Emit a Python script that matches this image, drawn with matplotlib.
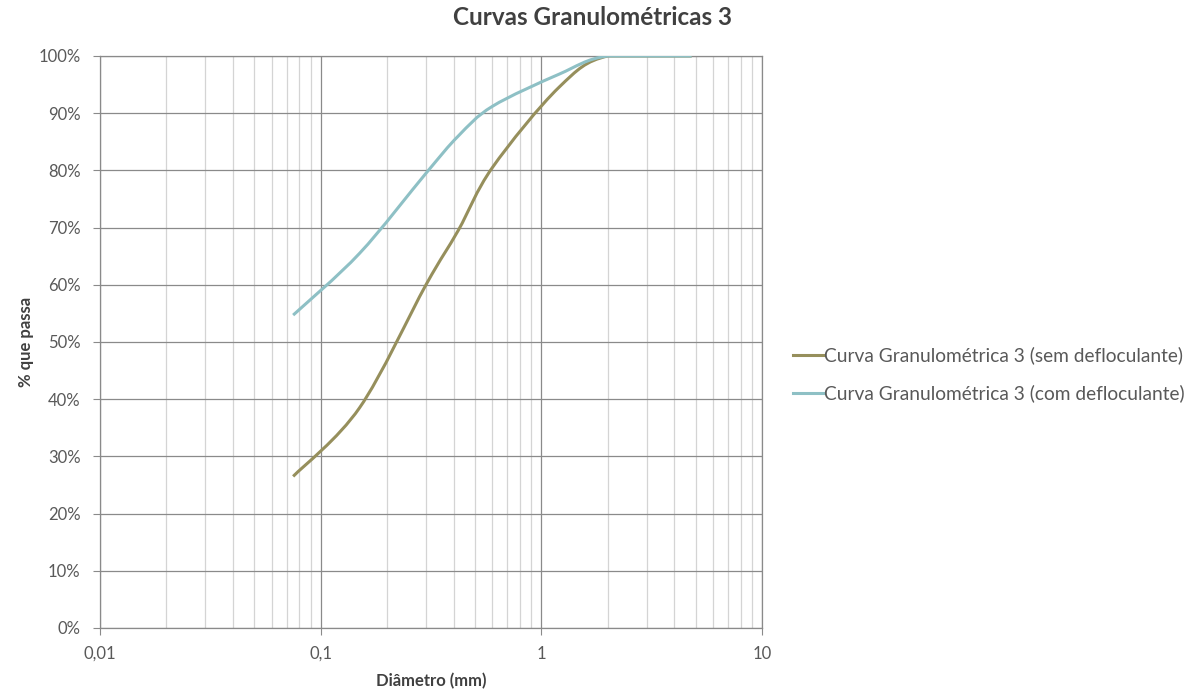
import numpy as np
import matplotlib
matplotlib.use("Agg")
import matplotlib.pyplot as plt
from matplotlib.path import Path
from matplotlib.patches import PathPatch
from matplotlib.lines import Line2D
from matplotlib.ticker import FuncFormatter, LogLocator, MultipleLocator


# peneiras (mm) e % que passa
diametro = [0.075, 0.15, 0.3, 0.42, 0.6, 1.2, 2.0, 4.8]
sem_defloc = [26.5, 38.5, 60.0, 69.5, 80.5, 94.5, 100.0, 100.0]
com_defloc = [54.7, 65.5, 79.5, 86.0, 91.2, 96.8, 100.0, 100.0]

nomes = ["Curva Granulométrica 3 (sem defloculante)",
         "Curva Granulométrica 3 (com defloculante)"]
cores = ["#968F5C", "#8EC0C5"]

plt.rcParams["font.family"] = ["Lato", "DejaVu Sans"]
GRID_MAJ = "#8a8a8a"
GRID_MIN = "#d4d4d4"
TXT = "#595959"


def smooth_path(x, y):
    # curva suave estilo Excel (bezier cubica) no espaco log(x), y
    lx = np.log10(x)
    y = np.asarray(y, float)
    n = len(lx)
    pts = np.column_stack([lx, y])
    verts = [pts[0]]
    codes = [Path.MOVETO]
    for i in range(n - 1):
        p0 = pts[i - 1] if i > 0 else pts[i]
        p1 = pts[i]
        p2 = pts[i + 1]
        p3 = pts[i + 2] if i + 2 < n else pts[i + 1]
        c1 = p1 + (p2 - p0) / 6.0
        c2 = p2 - (p3 - p1) / 6.0
        # nao deixa passar de 100%
        c1[1] = min(c1[1], 100.0)
        c2[1] = min(c2[1], 100.0)
        verts += [c1, c2, p2]
        codes += [Path.CURVE4] * 3
    verts = np.array(verts)
    verts[:, 0] = 10 ** verts[:, 0]
    return Path(verts, codes)


fig = plt.figure(figsize=(11.94, 6.99), dpi=100)
ax = fig.add_axes([0.0838, 0.1016, 0.5544, 0.8183])

ax.set_xscale("log")
ax.set_xlim(0.01, 10)
ax.set_ylim(0, 100)

ax.xaxis.set_major_locator(LogLocator(base=10))
ax.xaxis.set_minor_locator(LogLocator(base=10, subs=np.arange(2, 10)))
ax.yaxis.set_major_locator(MultipleLocator(10))
ax.xaxis.set_major_formatter(FuncFormatter(lambda v, p: f"{v:g}".replace(".", ",")))
ax.xaxis.set_minor_formatter(FuncFormatter(lambda v, p: ""))
ax.yaxis.set_major_formatter(FuncFormatter(lambda v, p: f"{v:.0f}%"))

ax.grid(which="major", color=GRID_MAJ, lw=0.9)
ax.grid(which="minor", axis="x", color=GRID_MIN, lw=0.9)
ax.set_axisbelow(True)
for s in ax.spines.values():
    s.set_color(GRID_MAJ)
    s.set_linewidth(0.9)

ax.tick_params(which="major", length=5, color=GRID_MAJ, labelcolor=TXT,
               labelsize=12, pad=9)
ax.tick_params(which="minor", length=0)
ax.tick_params(axis="x", pad=8)

handles = []
for yv, cor, nome in zip([sem_defloc, com_defloc], cores, nomes):
    patch = PathPatch(smooth_path(diametro, yv), fill=False, edgecolor=cor,
                      lw=2.2, capstyle="butt", zorder=3)
    ax.add_patch(patch)
    handles.append(Line2D([], [], color=cor, lw=2.2, label=nome))

fig.suptitle("Curvas Granulométricas 3", x=0.496, y=0.975, va="center",
             fontsize=17.5, fontweight="bold", color="#404040")
ax.set_xlabel("Diâmetro (mm)", fontsize=12, fontweight="bold", color="#404040",
              labelpad=8)
ax.set_ylabel("% que passa", fontsize=12, fontweight="bold", color="#404040",
              labelpad=3)

fig.legend(handles=handles, loc="center left", bbox_to_anchor=(0.650, 0.464),
           frameon=False, fontsize=13.8, handlelength=1.6, handletextpad=0.0,
           labelspacing=1.05, labelcolor=TXT)

fig.savefig("out.png", dpi=100)
